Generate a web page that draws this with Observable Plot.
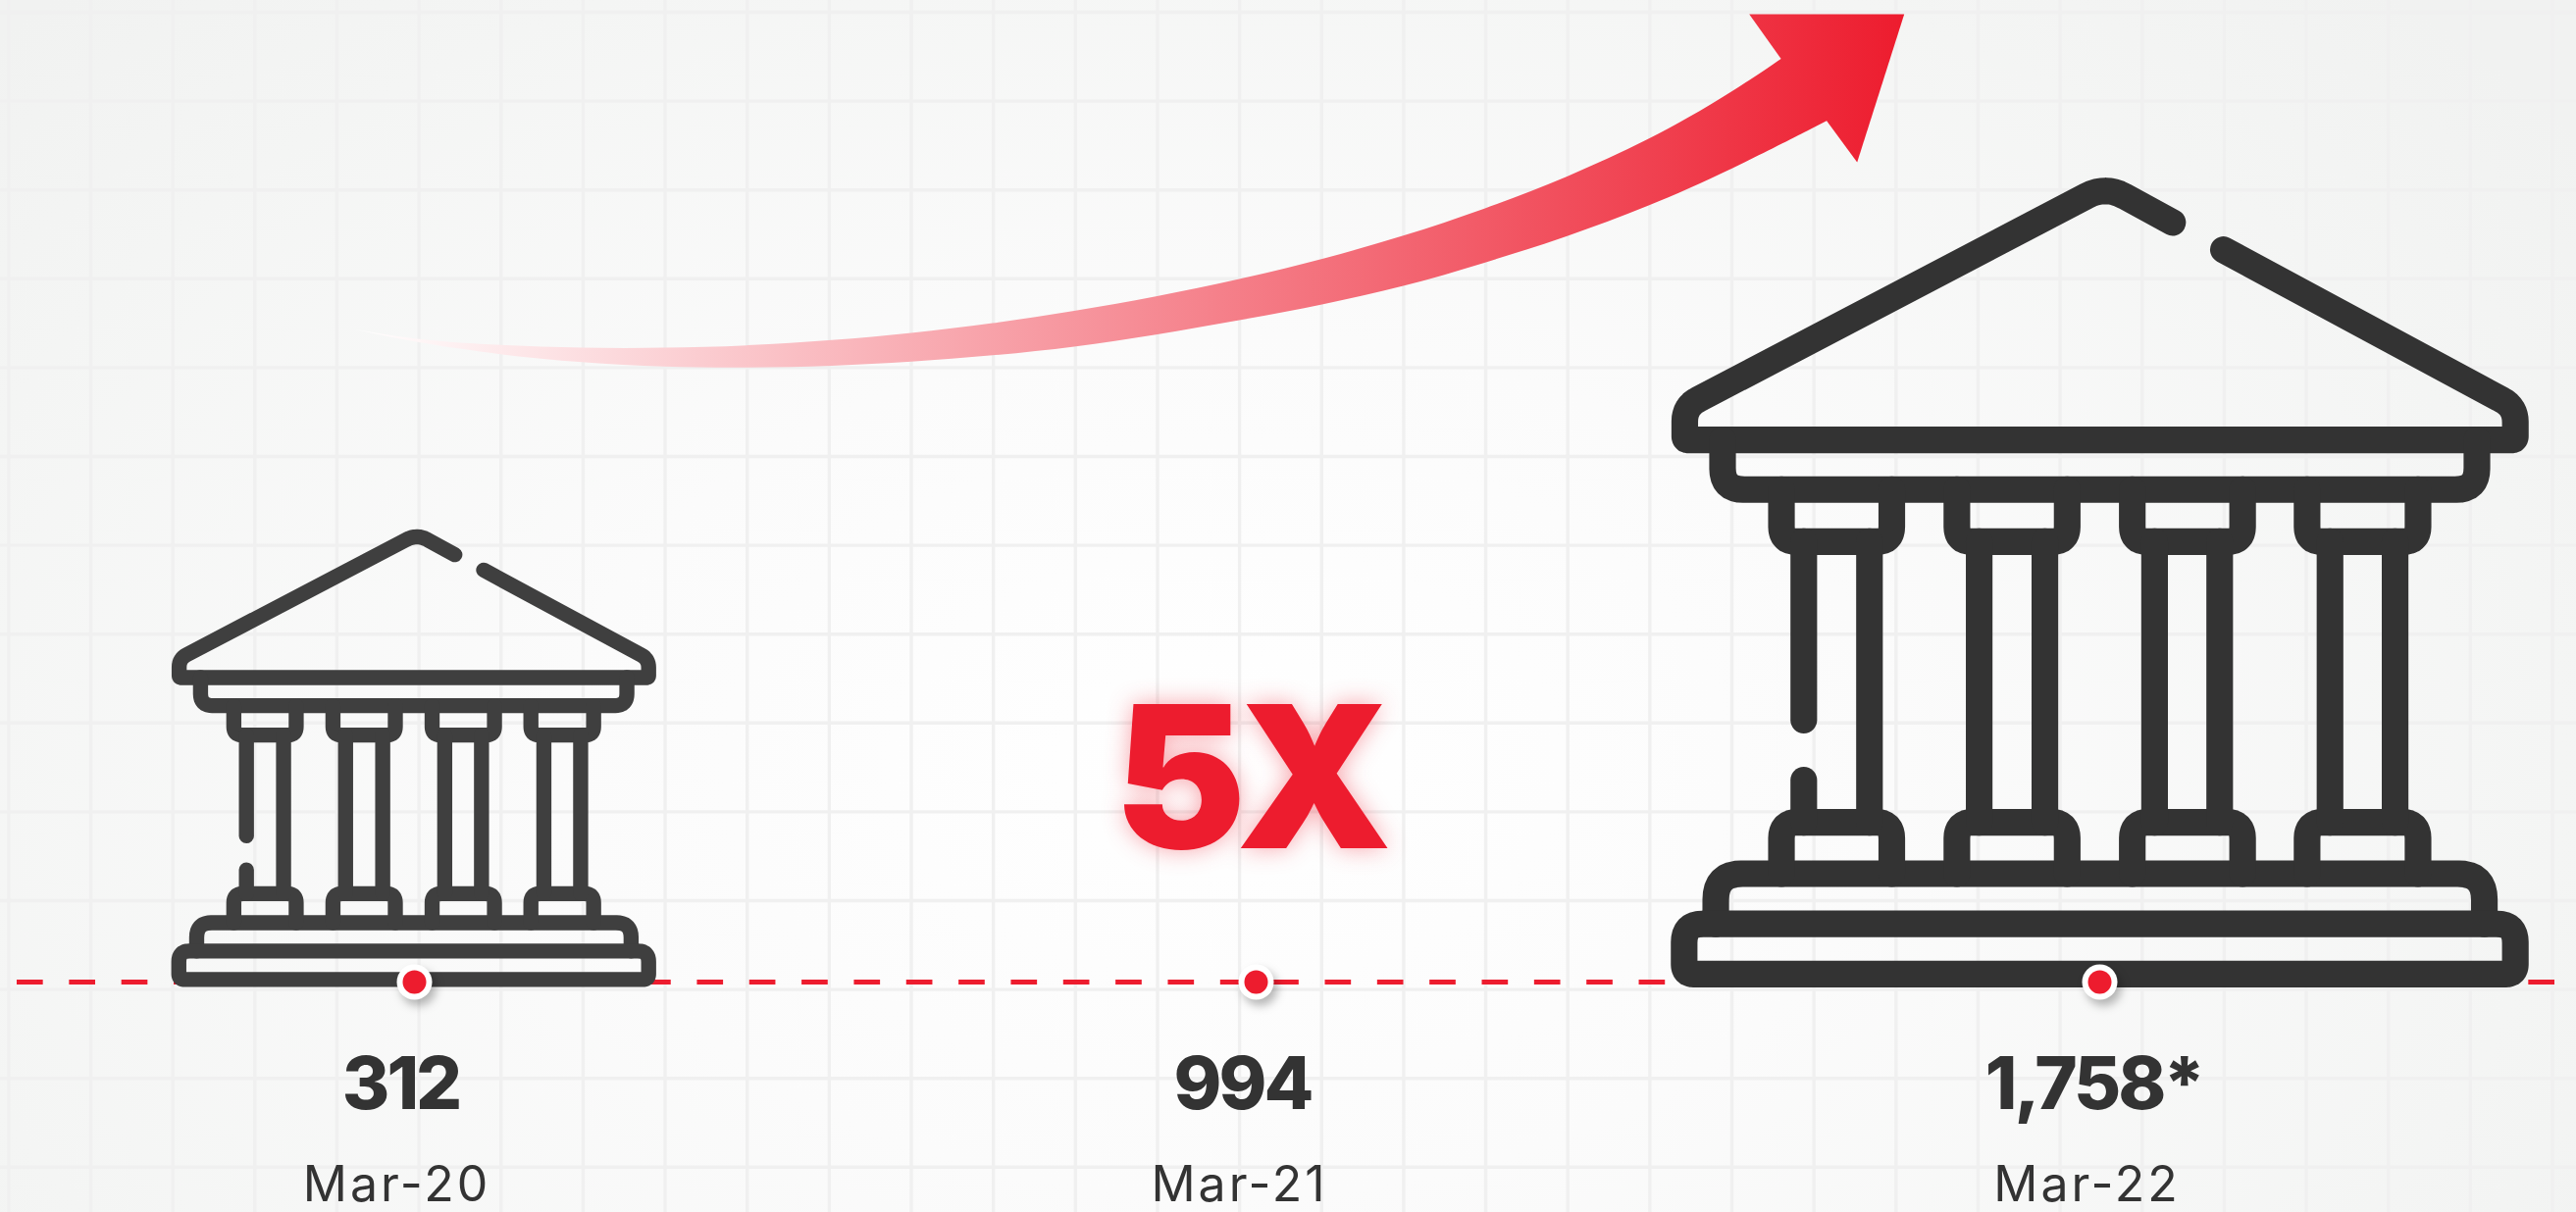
<!DOCTYPE html>
<html>
<head>
<meta charset="utf-8">
<script src="https://cdn.jsdelivr.net/npm/d3@7"></script>
<script src="https://cdn.jsdelivr.net/npm/@observablehq/plot@0.6"></script>
<style>
  html, body { margin: 0; padding: 0; background: #f4f5f4; overflow: hidden; }
  svg { display: block; }
  .value-label { letter-spacing: -3px; }
  .period-label { letter-spacing: 3px; }
  .multiple-label { letter-spacing: -10px; }
</style>
</head>
<body>
<div id="chart"></div>
<script>
// Values and labels
const periods = ["Mar-20", "Mar-21", "Mar-22"];
const values = [312, 994, 1758];
const valueLabels = ["312", "994", "1,758*"];
const multipleLabel = "5X";
const iconPeriods = ["Mar-20", "Mar-22"];

// Palette and type
const red = "#ed1c2e";
const ink = "#333333";
const gridColor = "#f0f0f0";
const font = "Inter, 'Open Sans', sans-serif";

// Page layout, in SVG pixels
const width = 2626, height = 1236;
const baselineY = 1001;
const dotX = [422, 1280, 2140];
const valueX = [408, 1266, 2134];
const periodX = [404, 1263, 2127];
const iconCenterX = {"Mar-20": 421.25, "Mar-22": 2140};
const iconInk = {"Mar-20": "#3f3f3f", "Mar-22": "#333333"};
const iconGroundY = 1005.5;

// Building glyph: stroked polylines in its own 2.8-per-pixel grid,
// each vertex is [x, y, cornerRadius]
const glyphUnit = 2.8, glyphStroke = 43, glyphMidX = 787.5, glyphBottom = 1415;
const columnGuides = [
  [274, 452, 310, 416],
  [557, 735, 593, 699],
  [840, 1018, 876, 981],
  [1122, 1301, 1159, 1264]
];
const glyphOutlines = [
  // roof and cornice, with the small break on the right slope
  [[905,182],[797,123,34],[118,479,24],[118,533,6],[1458,533,6],[1458,480,24],[987,226]],
  // frieze
  [[179,533],[179,613,34],[1396,613,34],[1396,533]],
  // upper step
  [[168,1314],[168,1233,42],[1408,1233,42],[1408,1314]],
  // lower step
  [[800,1314],[117,1314,30],[117,1395,16],[1458,1395,16],[1458,1314,30],[800,1314]]
];
columnGuides.forEach(([capL, capR, shaftL, shaftR], i) => {
  // capital
  glyphOutlines.push([[capL,613],[capL,697,24],[capR,697,24],[capR,613]]);
  // base
  glyphOutlines.push([[capL,1233],[capL,1150,26],[capR,1150,26],[capR,1233]]);
  // shaft, the first column keeps a gap in its left edge
  if (i === 0) {
    glyphOutlines.push([[shaftL,697],[shaftL,985]]);
    glyphOutlines.push([[shaftL,1082],[shaftL,1150]]);
  } else {
    glyphOutlines.push([[shaftL,697],[shaftL,1150]]);
  }
  glyphOutlines.push([[shaftR,697],[shaftR,1150]]);
});

// Replace each radiused vertex with a short quadratic sweep
function roundCorners(path) {
  const out = [];
  path.forEach((p, i) => {
    const r = p[2] || 0;
    if (!r || i === 0 || i === path.length - 1) { out.push([p[0], p[1]]); return; }
    const a = path[i - 1], b = path[i + 1];
    const la = Math.hypot(a[0] - p[0], a[1] - p[1]), lb = Math.hypot(b[0] - p[0], b[1] - p[1]);
    const s = [p[0] + (a[0] - p[0]) / la * r, p[1] + (a[1] - p[1]) / la * r];
    const e = [p[0] + (b[0] - p[0]) / lb * r, p[1] + (b[1] - p[1]) / lb * r];
    for (let k = 0; k <= 8; k++) {
      const t = k / 8, m = 1 - t;
      out.push([m * m * s[0] + 2 * m * t * p[0] + t * t * e[0], m * m * s[1] + 2 * m * t * p[1] + t * t * e[1]]);
    }
  });
  return out;
}
const glyphPaths = glyphOutlines.map(roundCorners);

// Building size follows the value shown beneath it
const iconScale = (v) => Math.pow(v / values[0], 0.33);

function iconRows(period) {
  const s = iconScale(values[periods.indexOf(period)]);
  const cx = iconCenterX[period];
  return glyphPaths.flatMap((path, i) =>
    path.map(([u, w]) => ({
      part: i,
      x: cx + (u - glyphMidX) / glyphUnit * s,
      y: iconGroundY + (w - glyphBottom) / glyphUnit * s
    }))
  );
}

// Growth arrow outline
const shaftStations = [362, 427, 510, 593, 677, 760, 850, 928, 1012, 1095, 1178, 1263, 1350, 1430, 1513, 1597, 1680, 1763, 1862];
const shaftTop =      [336, 347, 352.3, 355, 355, 352.7, 347, 340, 330, 317.3, 302.7, 285, 264, 241, 213.5, 181, 143.3, 96.7, 28];
const shaftBottom =   [336, 350, 361.7, 370, 374.3, 375.3, 373.3, 369.3, 362.7, 354, 341.7, 326.7, 310.5, 292.7, 268.3, 241.7, 210.7, 174, 123.3];
const arrowHead = [[1816,60.7],[1782.7,14],[1940.7,14],[1892.7,165],[1862,123.3],[1816,60.7]];

const shaftRows = shaftStations.map((x, i) => ({x, top: shaftTop[i], bottom: shaftBottom[i]}));

// Horizontal fade shared by the shaft and the head
const arrowFade = () => {
  const ns = "http://www.w3.org/2000/svg";
  const defs = document.createElementNS(ns, "defs");
  const grad = document.createElementNS(ns, "linearGradient");
  grad.setAttribute("id", "arrowFade");
  grad.setAttribute("gradientUnits", "userSpaceOnUse");
  grad.setAttribute("x1", 361); grad.setAttribute("x2", 1941);
  grad.setAttribute("y1", 0); grad.setAttribute("y2", 0);
  [[0, "#ffffff"], [1, red]].forEach(([o, c]) => {
    const stop = document.createElementNS(ns, "stop");
    stop.setAttribute("offset", o);
    stop.setAttribute("stop-color", c);
    grad.appendChild(stop);
  });
  defs.appendChild(grad);
  return defs;
};

const gridXs = d3.range(8.35, width, 83.65);
const gridYs = d3.range(12, height, 90.6);

const chart = Plot.plot({
  width, height,
  margin: 0,
  style: {
    background: "radial-gradient(ellipse 1700px 1100px at 1250px 780px, #ffffff 0%, #fbfbfb 40%, #f4f5f4 80%, #f1f2f1 100%)",
    fontFamily: font
  },
  x: {domain: [0, width], range: [0, width], axis: null},
  y: {domain: [0, height], range: [0, height], axis: null},
  marks: [
    arrowFade,
    // squared paper backdrop
    Plot.ruleX(gridXs, {stroke: gridColor, strokeWidth: 3.4}),
    Plot.ruleY(gridYs, {stroke: gridColor, strokeWidth: 3.4}),
    // dashed time line
    Plot.ruleY([baselineY], {x1: 17, x2: 2605, stroke: red, strokeWidth: 5, strokeDasharray: "26.67 26.67"}),
    // growth arrow
    Plot.areaY(shaftRows, {x: "x", y1: "top", y2: "bottom", curve: "basis", fill: "url(#arrowFade)"}),
    Plot.line(arrowHead, {x: d => d[0], y: d => d[1], fill: "url(#arrowFade)", stroke: "none"}),
    // buildings
    ...iconPeriods.map((p) =>
      Plot.line(iconRows(p), {
        x: "x", y: "y", z: "part",
        stroke: iconInk[p],
        strokeWidth: glyphStroke / glyphUnit * iconScale(values[periods.indexOf(p)]),
        strokeLinecap: "round",
        strokeLinejoin: "round"
      })
    ),
    // period markers
    Plot.dot(periods, {
      x: (d, i) => dotX[i], y: () => baselineY, r: 18, fill: "#ffffff", stroke: "none",
      imageFilter: "drop-shadow(4px 6px 5px rgba(0,0,0,0.28))"
    }),
    Plot.dot(periods, {x: (d, i) => dotX[i], y: () => baselineY, r: 12, fill: red, stroke: "none"}),
    // value labels
    Plot.text(valueLabels, {
      x: (d, i) => valueX[i], y: () => 1130, text: d => d, className: "value-label",
      fontSize: 74, fontWeight: 800, fill: ink, lineAnchor: "bottom"
    }),
    // period labels
    Plot.text(periods, {
      x: (d, i) => periodX[i], y: () => 1224, text: d => d, className: "period-label",
      fontSize: 50, fontWeight: 400, fill: ink, lineAnchor: "bottom"
    }),
    // headline multiple
    Plot.text([multipleLabel], {
      x: () => 1272, y: () => 864, text: d => d, className: "multiple-label",
      fontSize: 202, fontWeight: 900, fill: red, lineAnchor: "bottom",
      imageFilter: "drop-shadow(0 0 12px rgba(237,28,46,0.4))"
    })
  ]
});
document.getElementById("chart").appendChild(chart);
</script>
</body>
</html>
